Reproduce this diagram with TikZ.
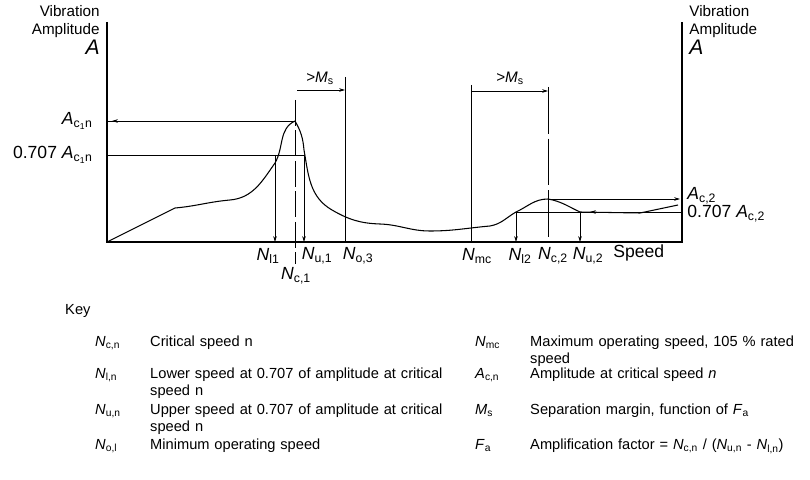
\documentclass[tikz,border=0pt]{standalone}
\usepackage{fontspec}
\setmainfont{Liberation Sans}
\usetikzlibrary{arrows.meta}
\newcommand\sym[2]{\textit{#1}\textsubscript{#2}}
\tikzset{
  ax/.style = {line width=1.1pt},
  guide/.style = {line width=0.6pt},
  dim/.style = {line width=0.6pt, -{Stealth[length=5pt,width=3pt]}},
  lbl/.style = {font=\fontsize{15}{16}\selectfont, inner sep=1pt},
  sml/.style = {font=\fontsize{13}{15}\selectfont, inner sep=1pt},
  keytxt/.style = {font=\fontsize{12.5}{14}\selectfont, anchor=north west, inner sep=0pt, align=left, text width=#1},
}
\begin{document}
\begin{tikzpicture}[x=0.03cm, y=-0.03cm]
\useasboundingbox (0,0) rectangle (810,480);
% axes
\coordinate (o) at (107,242);
\coordinate (e) at (682,242);
\draw[ax] (107,22) -- (o) -- (e) -- (682,22);
\node[sml, align=right, anchor=north east] (ylab) at (101,4) {Vibration\\Amplitude};
\node[anchor=north east, inner sep=1pt, font=\fontsize{18}{18}\selectfont] (yA) at (ylab.south east) {\textit{A}};
\node[sml, align=left, anchor=north west] (ylab2) at (688,4) {Vibration\\Amplitude};
\node[anchor=north west, inner sep=1pt, font=\fontsize{18}{18}\selectfont] (yA2) at (ylab2.south west) {\textit{A}};
\node[lbl, anchor=west] (speed) at (612,253) {Speed};
% response curve
\draw[line width=0.9pt] (o) -- (175,208) to[out=5,in=185] (230,200)
  to[out=5,in=235] (275,163) to[out=60,in=205] (295,121)
  to[out=-60,in=95] (304,150) to[out=-80,in=150] (332,210)
  to[out=-30,in=178] (380,224) to[out=-2,in=180] (430,231)
  to[out=0,in=185] (490,226) to[out=10,in=210] (516,212)
  to[out=25,in=180] (548,199) to[out=-10,in=155] (580,212)
  -- (640,213) -- (678,205);
% first critical speed
\coordinate (pk1) at (295,121);
\coordinate (nl1) at (275,155);
\coordinate (nu1) at (304,155);
\node[lbl, anchor=east] (ac1) at (94,121) {\sym{A}{c\textsubscript{1}n}};
\node[lbl, anchor=east] (ac1b) at (94,155) {0.707 \sym{A}{c\textsubscript{1}n}};
\draw[guide] (pk1) -- (107,121);
\draw[dim] (pk1) -- (112,121);
\draw[guide] (107,155) -- (nu1);
\draw[dim] (nl1) -- (275,242);
\draw[dim] (nu1) -- (304,242);
\draw[guide, dash pattern=on 22pt off 4pt] (295,100) -- (295,264);
\draw[guide] (345,77) -- (345,242);
\draw[dim] (297,90) -- (345,90);
\node[sml] (ms1) at (320,78) {>\sym{M}{s}};
\node[lbl] (Nl1) at (268,256) {\sym{N}{l1}};
\node[lbl] (Nu1) at (317,256) {\sym{N}{u,1}};
\node[lbl] (No3) at (358,256) {\sym{N}{o,3}};
\node[lbl] (Nc1) at (296,276) {\sym{N}{c,1}};
% second critical speed
\coordinate (pk2) at (548,199);
\coordinate (nl2) at (516,212);
\coordinate (nu2) at (580,212);
\draw[dim] (pk2) -- (680,199);
\draw[guide] (nl2) -- (682,212);
\draw[dim] (620,212) -- (590,212);
\draw[dim] (nl2) -- (516,242);
\draw[dim] (nu2) -- (580,242);
\draw[guide] (471,85) -- (471,242);
\draw[guide, dash pattern=on 40pt off 4pt] (548,87) -- (548,242);
\draw[dim] (471,91) -- (548,91);
\node[sml] (ms2) at (510,78) {>\sym{M}{s}};
\node[lbl, anchor=west] (ac2) at (686,196) {\sym{A}{c,2}};
\node[lbl, anchor=west] (ac2b) at (686,214) {0.707 \sym{A}{c,2}};
\node[lbl] (Nmc) at (477,256) {\sym{N}{mc}};
\node[lbl] (Nl2) at (520,256) {\sym{N}{l2}};
\node[lbl] (Nc2) at (553,256) {\sym{N}{c,2}};
\node[lbl] (Nu2) at (588,256) {\sym{N}{u,2}};
% key
\node[keytxt=2cm] (key) at (65,304) {Key};
\node[keytxt=2cm] (k1s) at (95,336) {\sym{N}{c,n}};
\node[keytxt=9.2cm] (k1t) at (150,336) {Critical speed n};
\node[keytxt=2cm] (k2s) at (95,368) {\sym{N}{l,n}};
\node[keytxt=9.2cm] (k2t) at (150,368) {Lower speed at 0.707 of amplitude at critical speed n};
\node[keytxt=2cm] (k3s) at (95,404) {\sym{N}{u,n}};
\node[keytxt=9.2cm] (k3t) at (150,404) {Upper speed at 0.707 of amplitude at critical speed n};
\node[keytxt=2cm] (k4s) at (95,439) {\sym{N}{o,l}};
\node[keytxt=9.2cm] (k4t) at (150,439) {Minimum operating speed};
\node[keytxt=2cm] (k5s) at (475,336) {\sym{N}{mc}};
\node[keytxt=8.2cm] (k5t) at (530,336) {Maximum operating speed, 105 \% rated speed};
\node[keytxt=2cm] (k6s) at (475,368) {\sym{A}{c,n}};
\node[keytxt=8.2cm] (k6t) at (530,368) {Amplitude at critical speed \textit{n}};
\node[keytxt=2cm] (k7s) at (475,404) {\sym{M}{s}};
\node[keytxt=8.2cm] (k7t) at (530,404) {Separation margin, function of \sym{F}{a}};
\node[keytxt=2cm] (k8s) at (475,439) {\sym{F}{a}};
\node[keytxt=8.5cm] (k8t) at (530,439) {Amplification factor = \sym{N}{c,n} / (\sym{N}{u,n} - \sym{N}{l,n})};
\end{tikzpicture}
\end{document}
